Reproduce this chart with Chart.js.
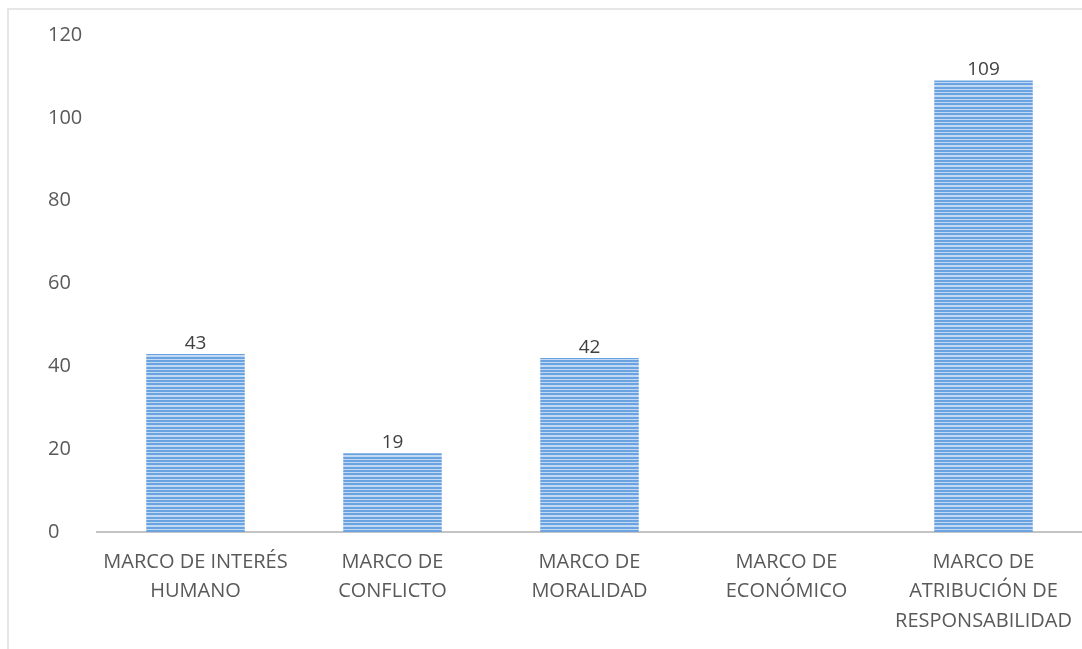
<!DOCTYPE html>
<html>
<head>
<meta charset="utf-8">
<script src="https://cdn.jsdelivr.net/npm/chart.js@4.4.0/dist/chart.umd.min.js"></script>
<style>
  html, body { margin: 0; padding: 0; background: #fff; }
  #wrap { position: relative; width: 1082px; height: 649px; }
  #frame { position: absolute; left: 7px; top: 8px; right: 0; bottom: 0;
           border-left: 2px solid #e6e6e6; border-top: 2px solid #e6e6e6; }
  #chart { position: absolute; left: 0; top: 0; }
</style>
</head>
<body>
<div id="wrap">
  <div id="frame"></div>
  <canvas id="chart" width="1082" height="649"></canvas>
</div>
<script>
var categories = [
    ['MARCO DE INTERÉS', 'HUMANO'],
    ['MARCO DE', 'CONFLICTO'],
    ['MARCO DE', 'MORALIDAD'],
    ['MARCO DE', 'ECONÓMICO'],
    ['MARCO DE', 'ATRIBUCIÓN DE', 'RESPONSABILIDAD']
];
var valores = [43, 19, 42, 0, 109];
var yTicks = [0, 20, 40, 60, 80, 100, 120];

// striped fill for the bars
function stripes() {
    var c = document.createElement('canvas');
    c.width = 4; c.height = 10;
    var g = c.getContext('2d');
    g.fillStyle = '#c2d9f3';
    g.fillRect(0, 0, 4, 10);
    g.fillStyle = '#6aa3df';
    g.fillRect(0, 0, 4, 2);
    g.fillRect(0, 3, 4, 2);
    g.fillRect(0, 7, 4, 2);
    return g.createPattern(c, 'repeat');
}

// value above each bar (zero values skipped)
var etiquetas = {
    id: 'etiquetas',
    afterDatasetsDraw: function(chart) {
        var ctx = chart.ctx;
        var meta = chart.getDatasetMeta(0);
        ctx.save();
        ctx.font = '19px "Open Sans"';
        ctx.fillStyle = '#404040';
        ctx.textAlign = 'center';
        ctx.textBaseline = 'bottom';
        meta.data.forEach(function(bar, i) {
            if (!valores[i]) return;
            ctx.fillText(valores[i], bar.x, bar.y - 1);
        });
        ctx.restore();
    }
};

var ctx = document.getElementById('chart').getContext('2d');
var grafico = new Chart(ctx, {
    type: 'bar',
    data: {
        labels: categories,
        datasets: [{
            data: valores,
            backgroundColor: stripes(),
            barPercentage: 0.5,
            categoryPercentage: 1
        }]
    },
    options: {
        responsive: false,
        animation: false,
        layout: { padding: { top: 35, left: 48, right: 0, bottom: 0 } },
        plugins: { legend: { display: false }, tooltip: { enabled: false } },
        scales: {
            x: {
                grid: { display: false, drawTicks: false },
                border: { color: '#c4c4c4', width: 2 },
                ticks: {
                    color: '#595959',
                    padding: 15,
                    maxRotation: 0,
                    autoSkip: false,
                    font: { family: 'Open Sans', size: 20, lineHeight: 1.48 }
                },
                afterFit: function(s) {
                    s.height = 117;
                    s.paddingLeft = 0;
                    s.paddingRight = 0;
                }
            },
            y: {
                min: 0, max: 120,
                afterBuildTicks: function(s) { s.ticks = yTicks.map(function(v) { return { value: v }; }); },
                grid: { display: false, drawTicks: false },
                border: { display: false },
                ticks: {
                    color: '#595959',
                    crossAlign: 'far',
                    font: { family: 'Open Sans', size: 20 }
                },
                afterFit: function(s) { s.width = 49; }
            }
        }
    },
    plugins: [etiquetas]
});
</script>
</body>
</html>
